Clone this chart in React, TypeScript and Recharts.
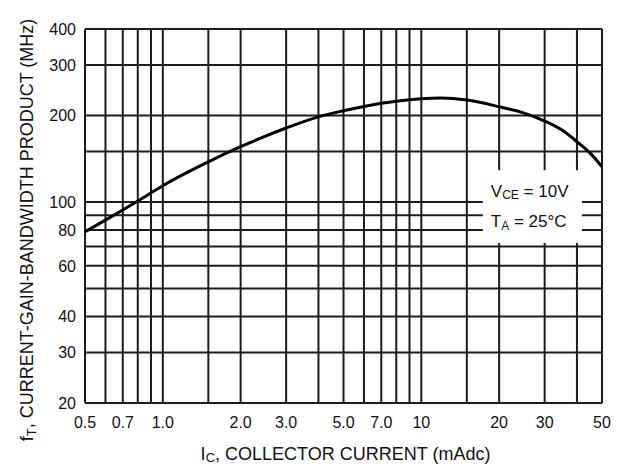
import React from 'react';
import { LineChart, Line, XAxis, YAxis, CartesianGrid, ReferenceArea } from 'recharts';

// Collector current (mAdc) and fT (MHz)
const currents = [0.5, 0.6, 0.7, 0.8, 0.9, 1.0, 1.5, 2.0, 3.0, 4.0, 5.0, 6.0, 7.0, 8.0, 10, 12, 15, 20, 25, 30, 35, 40, 45, 50];
const ftValues = [78.8, 86.5, 93.8, 100.8, 107.6, 114, 138, 155.8, 181, 197.9, 207.8, 215.1, 220.5, 224.4, 228.9, 230.1, 226.4, 214.6, 204, 191.4, 178, 162.2, 148, 132.7];

const xGridTicks = [0.5, 0.6, 0.7, 0.8, 0.9, 1, 1.5, 2, 3, 4, 5, 6, 7, 8, 9, 10, 15, 20, 30, 40, 50];
const xTickValues = [0.5, 0.7, 1, 2, 3, 5, 7, 10, 20, 30, 50];
const xTickLabels = ['0.5', '0.7', '1.0', '2.0', '3.0', '5.0', '7.0', '10', '20', '30', '50'];

const yGridTicks = [20, 30, 40, 50, 60, 70, 80, 90, 100, 150, 200, 300, 400];
const yTickValues = [20, 30, 40, 60, 80, 100, 200, 300, 400];
const yTickLabels = ['20', '30', '40', '60', '80', '100', '200', '300', '400'];

// Annotation box extent in data units (current, MHz)
const noteX = [17.3, 41.8];
const noteY = [72, 129];

const data = currents.map((c, i) => ({ ic: c, ft: ftValues[i] }));

const FONT = '"Liberation Sans", Arial, sans-serif';
const INK = '#111';

const fmtX = (v: number) => {
  const i = xTickValues.indexOf(v);
  return i >= 0 ? xTickLabels[i] : '';
};
const fmtY = (v: number) => {
  const i = yTickValues.indexOf(v);
  return i >= 0 ? yTickLabels[i] : '';
};

const NoteLabel = (props: any) => {
  const vb = props.viewBox || { x: 0, y: 0 };
  const x = vb.x + 8;
  const y = vb.y;
  return (
    <g fontFamily={FONT} fill={INK}>
      <text x={x} y={y + 27} fontSize={17}>
        <tspan>V</tspan>
        <tspan fontSize={12} dy={2}>CE</tspan>
        <tspan dy={-2}> = 10V</tspan>
      </text>
      <text x={x} y={y + 57} fontSize={17}>
        <tspan>T</tspan>
        <tspan fontSize={12} dy={3}>A</tspan>
        <tspan dy={-3}> = 25°C</tspan>
      </text>
    </g>
  );
};

const XTitle = (props: any) => {
  const vb = props.viewBox || { x: 0, y: 0, width: 0 };
  return (
    <text x={vb.x + vb.width / 2 + 2} y={vb.y + 57} textAnchor="middle" fontFamily={FONT} fontSize={18} fill={INK}>
      <tspan>I</tspan>
      <tspan fontSize={13} dy={2}>C</tspan>
      <tspan dy={-2}>, COLLECTOR CURRENT (mAdc)</tspan>
    </text>
  );
};

const YTitle = (props: any) => {
  const vb = props.viewBox || { x: 0, y: 0, height: 0 };
  const cx = 33;
  const cy = vb.y + vb.height / 2 + 14;
  return (
    <text x={cx} y={cy} transform={`rotate(-90, ${cx}, ${cy})`} textAnchor="middle" fontFamily={FONT} fontSize={18} fill={INK}>
      <tspan>f</tspan>
      <tspan fontSize={13} dy={3}>T</tspan>
      <tspan dy={-3}>, CURRENT-GAIN-BANDWIDTH PRODUCT (MHz)</tspan>
    </text>
  );
};

export default function App() {
  return (
    <div style={{ position: 'absolute', left: 0, top: 0, background: '#fff' }}>
      <LineChart width={622} height={466} data={data} margin={{ top: 29, right: 20, left: 0, bottom: 0 }}>
        <CartesianGrid stroke="#1c1c1c" strokeWidth={2} />
        <XAxis
          dataKey="ic"
          type="number"
          scale="log"
          domain={[0.5, 50]}
          allowDataOverflow
          ticks={xGridTicks}
          interval={0}
          tickFormatter={fmtX}
          axisLine={false}
          tickLine={false}
          tickMargin={8}
          height={63}
          tick={{ fontSize: 16, fill: INK, fontFamily: FONT }}
          label={<XTitle />}
        />
        <YAxis
          dataKey="ft"
          type="number"
          scale="log"
          domain={[20, 400]}
          allowDataOverflow
          ticks={yGridTicks}
          interval={0}
          tickFormatter={fmtY}
          axisLine={false}
          tickLine={false}
          tickMargin={3}
          width={85}
          tick={{ fontSize: 16, fill: INK, fontFamily: FONT }}
          label={<YTitle />}
        />
        <ReferenceArea
          x1={noteX[0]}
          x2={noteX[1]}
          y1={noteY[0]}
          y2={noteY[1]}
          fill="#fff"
          fillOpacity={1}
          stroke="none"
          label={<NoteLabel />}
        />
        <Line
          type="monotone"
          dataKey="ft"
          stroke="#000"
          strokeWidth={3}
          dot={false}
          isAnimationActive={false}
        />
      </LineChart>
    </div>
  );
}
